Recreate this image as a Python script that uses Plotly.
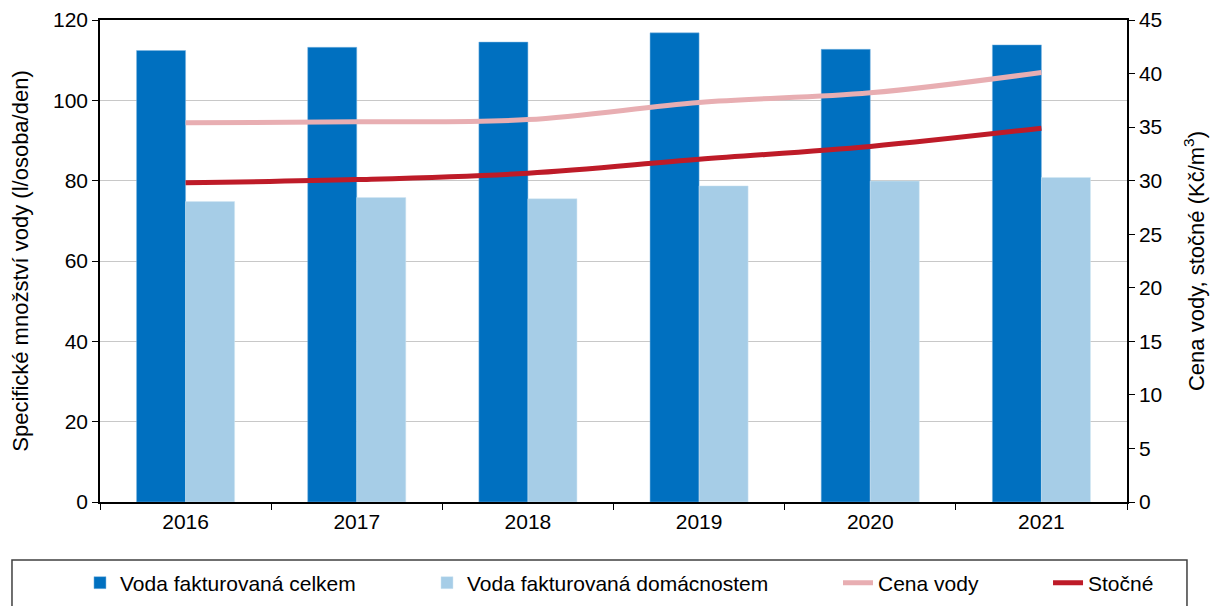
import plotly.graph_objects as go

# Water consumption (l/osoba/den) and prices (Kč/m3), 2016–2021
years = ['2016', '2017', '2018', '2019', '2020', '2021']
voda_celkem = [112.4, 113.2, 114.5, 116.8, 112.7, 113.8]
voda_domacnosti = [74.8, 75.8, 75.5, 78.7, 79.9, 80.8]
cena_vody = [35.4, 35.5, 35.7, 37.3, 38.2, 40.1]
stocne = [29.8, 30.1, 30.7, 32.0, 33.2, 34.9]

FONT = 'Liberation Sans, Arial, sans-serif'
FS = 21

fig = go.Figure()

fig.add_trace(go.Bar(
    name='Voda fakturovaná celkem',
    x=years, y=voda_celkem,
    marker=dict(color='#0070C0', line=dict(color='#7FB6E0', width=0.5)),
    legend='legend'
))
fig.add_trace(go.Bar(
    name='Voda fakturovaná domácnostem',
    x=years, y=voda_domacnosti,
    marker=dict(color='#A6CDE7', line=dict(color='#D3E6F3', width=0.5)),
    legend='legend2'
))
fig.add_trace(go.Scatter(
    name='Cena vody',
    x=years, y=cena_vody, yaxis='y2',
    mode='lines', line=dict(color='#E8AEB2', width=5, shape='spline'),
    legend='legend3'
))
fig.add_trace(go.Scatter(
    name='Stočné',
    x=years, y=stocne, yaxis='y2',
    mode='lines', line=dict(color='#BE1B28', width=5, shape='spline'),
    legend='legend4'
))

# legend frame spanning the full width below the plot
fig.add_shape(type='rect', xref='paper', yref='paper',
              x0=-0.0857, x1=1.0584, y0=-0.1203, y1=-0.23,
              line=dict(color='#404040', width=1.5), fillcolor='rgba(0,0,0,0)')


def legend_at(x):
    return dict(x=x, y=-0.168, xanchor='left', yanchor='middle',
                orientation='h', bgcolor='rgba(0,0,0,0)',
                font=dict(family=FONT, size=FS, color='black'))


# page body has an 8px margin, so the figure is a bit smaller than the window
fig.update_layout(
    width=1210, height=598,
    margin=dict(l=92, r=91, t=12, b=104, autoexpand=False),
    plot_bgcolor='white', paper_bgcolor='white',
    font=dict(family=FONT, size=FS, color='black'),
    showlegend=True,
    barmode='group', bargap=0.427, bargroupgap=0,
    xaxis=dict(
        type='category', showline=True, linecolor='black', linewidth=1.5,
        mirror=True, ticks='outside', tickson='boundaries', ticklen=6,
        tickcolor='black', showgrid=False
    ),
    yaxis=dict(
        title=dict(text='Specifické množství vody (l/osoba/den)', standoff=29,
                   font=dict(size=22)),
        range=[0, 120], dtick=20, showline=True, linecolor='black', linewidth=1.5,
        ticks='outside', ticklen=6, tickcolor='black',
        showgrid=True, gridcolor='#C8C8C8', gridwidth=1, zeroline=False
    ),
    yaxis2=dict(
        title=dict(text='Cena vody, stočné (Kč/m<sup>3</sup>)', standoff=27,
                   font=dict(size=22)),
        overlaying='y', side='right', range=[0, 45], dtick=5,
        showline=True, linecolor='black', linewidth=1.5,
        ticks='outside', ticklen=6, tickcolor='black',
        showgrid=False, zeroline=False
    ),
    legend=legend_at(-0.0195),
    legend2=legend_at(0.3184),
    legend3=legend_at(0.7186),
    legend4=legend_at(0.9231),
)

fig.write_html('out.html')
